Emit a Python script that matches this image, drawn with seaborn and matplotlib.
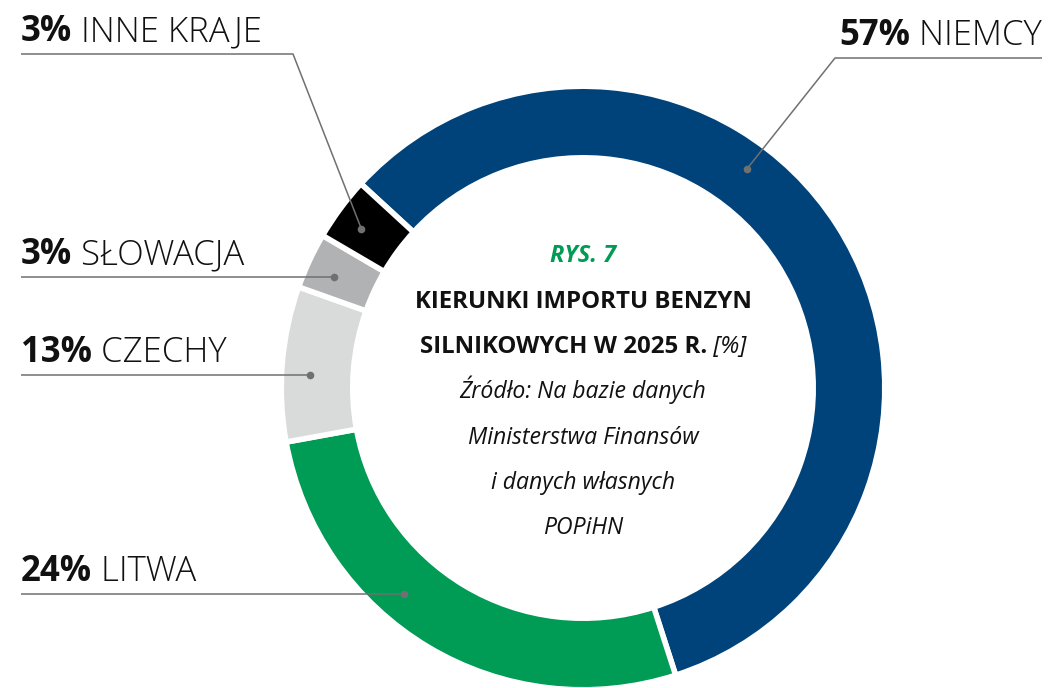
import numpy as np
import matplotlib.pyplot as plt
import seaborn as sns

# data
countries = ['NIEMCY', 'LITWA', 'CZECHY', 'SŁOWACJA', 'INNE KRAJE']
label_pct = ['57%', '24%', '13%', '3%', '3%']
shares = [58.2, 27.1, 8.3, 3.0, 3.4]
colors = ['#00427a', '#009b55', '#d9dada', '#b1b2b3', '#000000']

title_lines = ['KIERUNKI IMPORTU BENZYN', 'SILNIKOWYCH W 2025 R.']
source_lines = ['Źródło: Na bazie danych', 'Ministerstwa Finansów',
                'i danych własnych', 'POPiHN']

sns.set_theme(style='white')
plt.rcParams['font.family'] = ['Open Sans', 'DejaVu Sans']

W, H = 1048, 688
fig = plt.figure(figsize=(W / 100, H / 100), dpi=100)
ax = fig.add_axes([0, 0, 1, 1])

cx, cy = 583, H - 388
R, ring = 299, 66
lw = 4
pad = lw * 100 / 72 / 2
wedges, _ = ax.pie(shares, colors=colors, startangle=137.4, counterclock=False,
                   center=(cx, cy), radius=R + pad,
                   wedgeprops=dict(width=ring + 2 * pad, edgecolor='white', linewidth=lw))
ax.set_xlim(0, W)
ax.set_ylim(0, H)
ax.set_aspect('equal')
ax.axis('off')

renderer = fig.canvas.get_renderer()


def runs(x, y, parts, ha='left', **kw):
    # parts: list of (text, dict of props); laid out one after another
    arts = []
    for txt, p in parts:
        arts.append(ax.text(0, y, txt, va='baseline', ha='left', **kw, **p))
    widths = [a.get_window_extent(renderer).width for a in arts]
    total = sum(widths)
    if ha == 'left':
        x0 = x
    elif ha == 'right':
        x0 = x - total
    else:
        x0 = x - total / 2
    for a, w in zip(arts, widths):
        a.set_x(x0)
        x0 += w
    return arts


# leader lines (layout, pixel coords, y down)
anchor_deg = [53.2, 229, 177.3, 156, 144.3]
anchor_r = 273
elbows = [(835, 58), None, None, None, (293, 54)]
line_end = [1042, 21, 21, 21, 21]
lc = '#707070'
for i in range(len(countries)):
    a = np.radians(anchor_deg[i])
    dx, dy = cx + anchor_r * np.cos(a), cy + anchor_r * np.sin(a)
    if elbows[i] is None:
        ex, ey = dx, dy
    else:
        ex, ey = elbows[i][0], H - elbows[i][1]
    ax.plot([dx, ex, line_end[i]], [dy, ey, ey], color=lc, lw=1.1, solid_capstyle='butt')
    ax.plot(dx, dy, 'o', color=lc, ms=5.5, mec='none')
    ha = 'right' if line_end[i] > cx else 'left'
    runs(line_end[i], ey + 13, [(label_pct[i], dict(weight='bold')),
                                (' ' + countries[i], dict(weight='light'))],
         ha=ha, fontsize=25, color='#111111')

# centre text
ax.text(cx, H - 262, 'RYS. 7', ha='center', va='baseline', fontsize=17,
        weight='bold', style='italic', color='#009b55')
ax.text(cx, H - 308, title_lines[0], ha='center', va='baseline', fontsize=17.3,
        weight='bold', color='#111111')
runs(cx, H - 353, [(title_lines[1], dict(weight='bold')),
                   (' [%]', dict(style='italic', weight='normal'))],
     ha='center', fontsize=17.3, color='#111111')
for k, s in enumerate(source_lines):
    ax.text(cx, H - (398 + 45.5 * k), s, ha='center', va='baseline', fontsize=16.6,
            style='italic', color='#111111')

fig.savefig('out.png', dpi=100)
